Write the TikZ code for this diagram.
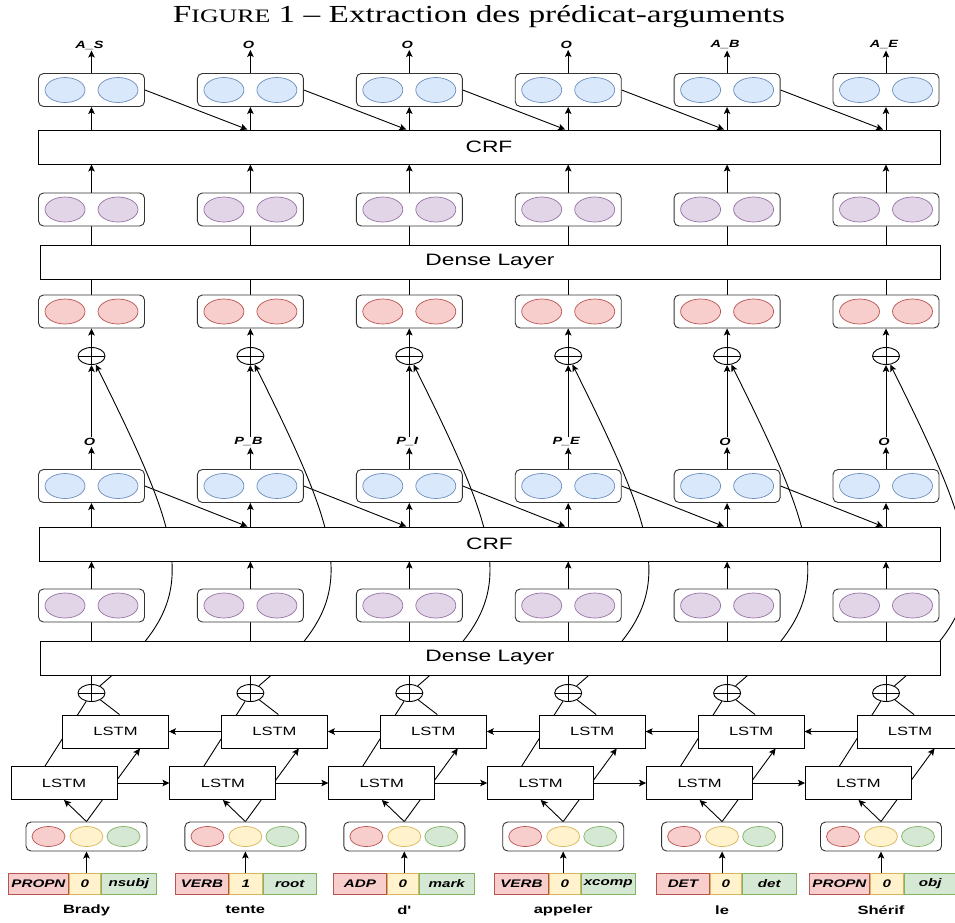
\documentclass[tikz,border=0pt]{standalone}
\usepackage{fontspec}
\setmainfont{Liberation Serif}
\newfontfamily\titlefont[FakeStretch=1.36]{Liberation Serif}
\newfontfamily\diag[FakeStretch=1.38]{Liberation Sans}
\usetikzlibrary{arrows.meta,calc,shapes.geometric}
\pgfdeclarelayer{bg}
\pgfsetlayers{bg,main}

\definecolor{blueF}{HTML}{DAE8FC}\definecolor{blueD}{HTML}{6C8EBF}
\definecolor{purF}{HTML}{E1D5E7}\definecolor{purD}{HTML}{9673A6}
\definecolor{redF}{HTML}{F8CECC}\definecolor{redD}{HTML}{B85450}
\definecolor{yelF}{HTML}{FFF2CC}\definecolor{yelD}{HTML}{D6B656}
\definecolor{grnF}{HTML}{D5E8D4}\definecolor{grnD}{HTML}{82B366}

\tikzset{
  pairbox/.style={draw=black!80, line width=0.9pt, rounded corners=5pt, fill=white,
    minimum width=106pt, minimum height=33pt, inner sep=0pt},
  dot/.style={ellipse, line width=0.7pt, minimum width=40pt, minimum height=25pt, inner sep=0pt},
  wide/.style={draw, line width=1pt, fill=white, minimum height=34pt,
    font=\diag\fontsize{16.5}{16.5}\selectfont},
  lstm/.style={draw, line width=0.9pt, fill=white, minimum width=106pt, minimum height=33pt,
    font=\diag\fontsize{12}{12}\selectfont},
  oplus/.style={ellipse, draw, line width=0.9pt, fill=white, minimum width=27pt,
    minimum height=17pt, inner sep=0pt,
    path picture={\draw (path picture bounding box.north) -- (path picture bounding box.south)
      (path picture bounding box.west) -- (path picture bounding box.east);}},
  tag/.style={font=\diag\bfseries\itshape\fontsize{10.5}{10.5}\selectfont, inner sep=1pt},
  cell/.style={draw, line width=0.9pt, minimum height=21pt, inner sep=0pt, anchor=west,
    font=\diag\bfseries\itshape\fontsize{11}{11}\selectfont},
  word/.style={font=\diag\bfseries\fontsize{12}{12}\selectfont},
  arr/.style={-{Stealth[length=7pt,width=6.5pt,inset=1.5pt]}, line width=0.9pt},
  link/.style={line width=0.9pt},
}

% rounded box holding two coloured units
\newcommand{\pairrow}[5]{%
  \node[pairbox] (#1) at (#2,#3) {};
  \node[dot, fill=#4, draw=#5] (#1l) at ($(#1)+(-26.5,0)$) {};
  \node[dot, fill=#4, draw=#5] (#1r) at ($(#1)+(26.5,0)$) {};
}

\begin{document}
\begin{tikzpicture}[x=1pt,y=-1pt]
\useasboundingbox (0,0) rectangle (955,922);

\node[font=\titlefont\fontsize{24.5}{24.5}\selectfont] (title) at (479,17)
  {F{\fontsize{19}{19}\selectfont IGURE} 1 – Extraction des prédicat-arguments};

% layers spanning the sentence
\node[wide, minimum width=902pt] (crfA) at (489,147) {CRF};
\node[wide, minimum width=900pt] (denseA) at (490,262) {Dense Layer};
\node[wide, minimum width=901pt] (crfB) at (489.5,544) {CRF};
\node[wide, minimum width=900pt] (denseB) at (490,658) {Dense Layer};

% one column per token
\foreach \i/\x/\tagA/\tagB in {1/91.5/A\_S/O, 2/250.4/O/P\_B, 3/409.3/O/P\_I,
    4/568.2/O/P\_E, 5/727.1/A\_B/O, 6/886/A\_E/O}{
  \pairrow{blueA\i}{\x}{90}{blueF}{blueD}
  \node[tag] (outA\i) at (\x-2,45) {\tagA};
  \pairrow{purA\i}{\x}{209.5}{purF}{purD}
  \pairrow{red\i}{\x}{311.5}{redF}{redD}
  \node[oplus] (plusU\i) at (\x,356) {};
  \node[tag] (outB\i) at (\x-2,442) {\tagB};
  \pairrow{blueB\i}{\x}{486}{blueF}{blueD}
  \pairrow{purB\i}{\x}{605.5}{purF}{purD}
  \node[oplus] (plusL\i) at (\x,693) {};
  \node[lstm] (lstmB\i) at (\x+24,731.5) {LSTM};
  \node[lstm] (lstmF\i) at (\x-27.5,783) {LSTM};
  \node[pairbox, minimum width=121pt, minimum height=29pt] (emb\i) at (\x-5,836.5) {};
  \node[dot, minimum width=33pt, minimum height=20pt, fill=redF, draw=redD] (embR\i) at ($(emb\i)+(-38,0)$) {};
  \node[dot, minimum width=33pt, minimum height=20pt, fill=yelF, draw=yelD] (embY\i) at (emb\i) {};
  \node[dot, minimum width=33pt, minimum height=20pt, fill=grnF, draw=grnD] (embG\i) at ($(emb\i)+(37,0)$) {};
}

% token features and words
\foreach \i/\lx/\wR/\wY/\wG/\posT/\predT/\depT/\tokT in {1/8/60/31/55/PROPN/0/nsubj/Brady,
    2/175/53/33/53/VERB/1/root/tente, 3/333/53/31/55/ADP/0/mark/d',
    4/494/54/31/54/VERB/0/xcomp/appeler, 5/656/53/31/54/DET/0/det/le,
    6/809/60/33/52/PROPN/0/obj/Shérif}{
  \node[cell, fill=redF, draw=redD, minimum width=\wR pt] (featR\i) at (\lx,883.5) {\posT};
  \node[cell, fill=yelF, draw=yelD, minimum width=\wY pt] (featY\i) at (featR\i.east) {\predT};
  \node[cell, fill=grnF, draw=grnD, minimum width=\wG pt] (featG\i) at (featY\i.east) {\depT};
  \node[word] (word\i) at ($(emb\i)+(0,73.5)$) {\tokT};
}

\begin{pgfonlayer}{bg}
\foreach \i in {1,...,6}{
  \draw[arr] (emb\i.south |- featY\i.north) -- (emb\i.south);
  \draw[arr] (emb\i.north) -- (lstmF\i.south);
  \draw[arr] (emb\i.north) -- ($(lstmB\i.south)+(24.5,0)$);
  \draw[link] ($(lstmF\i.north)+(-19,0)$) -- (plusL\i);
  \draw[link] ($(lstmB\i.north)+(4,0)$) -- (plusL\i);
  \draw[link] (plusL\i.north) -- (plusL\i.north |- denseB.south);
  \draw[link] (purB\i.south) -- (purB\i.south |- denseB.north);
  \draw[arr] (purB\i.north) -- (purB\i.north |- crfB.south);
  \draw[arr] (blueB\i.south |- crfB.north) -- (blueB\i.south);
  \draw[arr] (blueB\i.north) -- (blueB\i.north |- outB\i.south);
  \draw[arr] (plusU\i.south |- outB\i.north) -- (plusU\i.south);
  % skip link from the LSTM sum to the upper sum
  \draw[arr] (plusL\i) .. controls ($(plusL\i)+(110,-93)$) and ($(plusU\i)+(100,201)$) .. (plusU\i);
  \draw[arr] (plusU\i.north) -- (red\i.south);
  \draw[link] (red\i.north) -- (red\i.north |- denseA.south);
  \draw[link] (purA\i.south) -- (purA\i.south |- denseA.north);
  \draw[arr] (purA\i.north) -- (purA\i.north |- crfA.south);
  \draw[arr] (blueA\i.south |- crfA.north) -- (blueA\i.south);
  \draw[arr] (blueA\i.north) -- (blueA\i.north |- outA\i.south);
}
\foreach \i/\j in {1/2,2/3,3/4,4/5,5/6}{
  \draw[arr] (lstmF\i.east) -- (lstmF\j.west);
  \draw[arr] (lstmB\j.west) -- (lstmB\i.east);
  \draw[arr] (blueB\i.east) -- ($(blueB\j.south |- crfB.north)+(-3,0)$);
  \draw[arr] (blueA\i.east) -- ($(blueA\j.south |- crfA.north)+(-3,0)$);
}
\end{pgfonlayer}
\end{tikzpicture}
\end{document}
